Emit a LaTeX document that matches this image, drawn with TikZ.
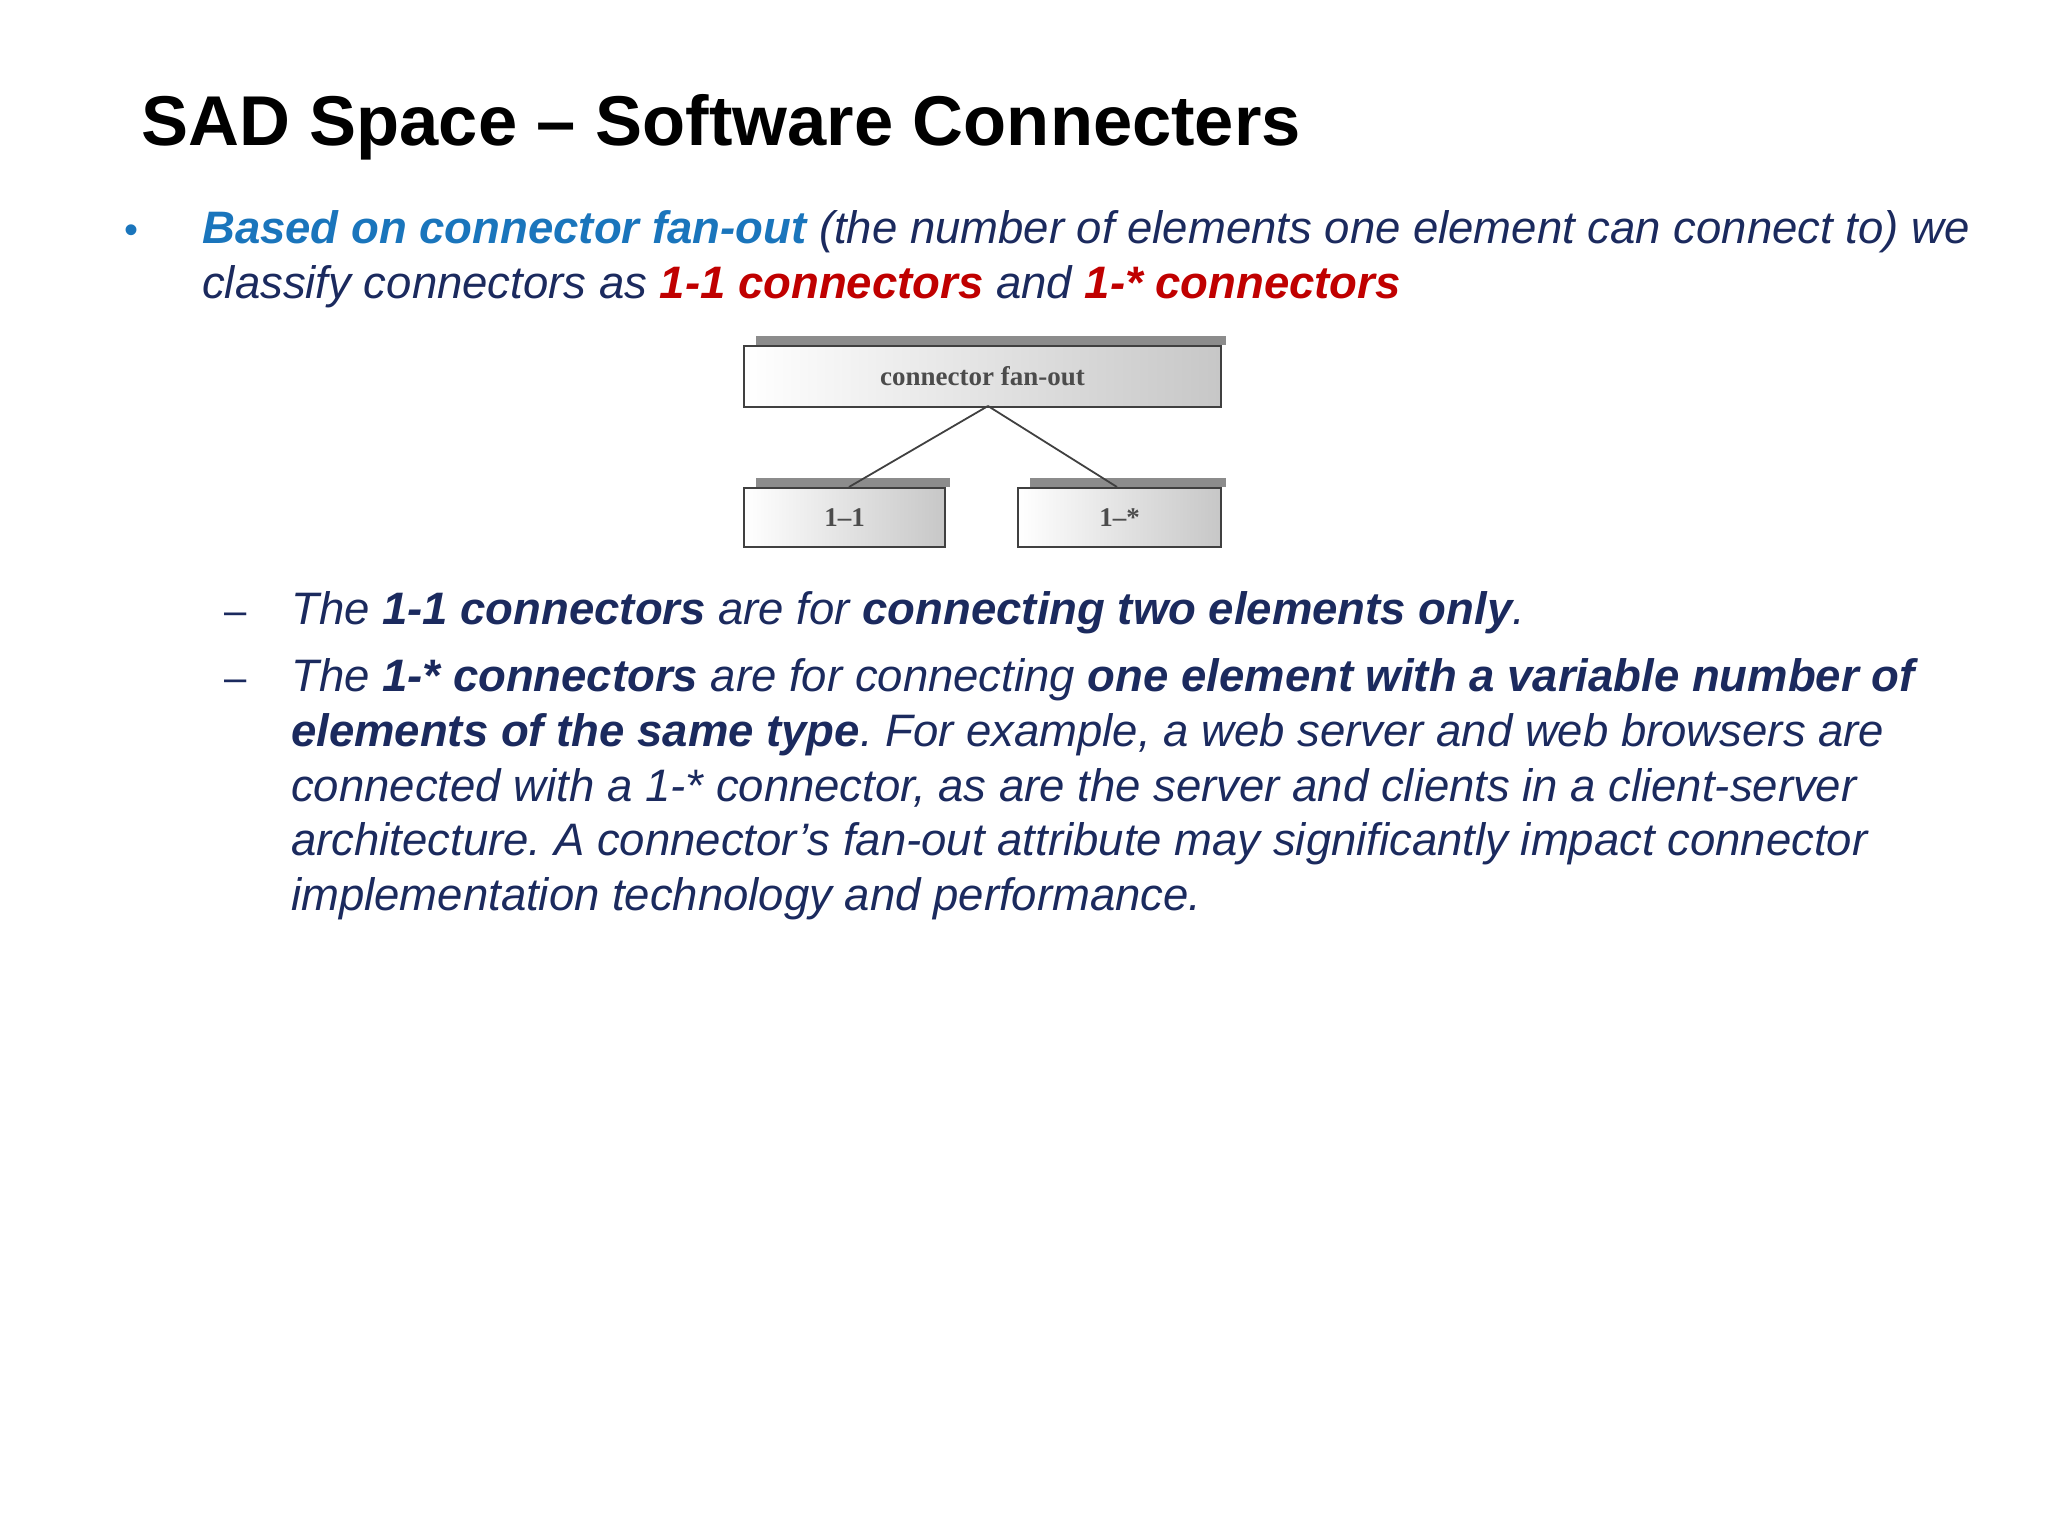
\documentclass[tikz,border=0pt]{standalone}
\usepackage{fontspec}
\setmainfont{Liberation Sans}
\newfontfamily\lblfont{Liberation Serif}
\definecolor{navy}{HTML}{1B2A5E}
\definecolor{lblue}{HTML}{1A75BC}
\definecolor{dred}{HTML}{C00000}
\frenchspacing
\begin{document}
\begin{tikzpicture}[x=1pt,y=-1pt,
  body/.style={anchor=base west,inner sep=0pt,font=\fontsize{45.5}{55}\selectfont\itshape,text=navy},
  fbox/.style={draw=black!75,line width=2pt,left color=white,right color=black!22,inner sep=0pt},
  shad/.style={fill=black!45},
  lbl/.style={font=\fontsize{27}{30}\selectfont\bfseries\lblfont,text=black!70}]
\useasboundingbox (0,0) rectangle (2048,1536);
\node[anchor=base west,inner sep=0pt,font=\fontsize{70.5}{80}\selectfont\bfseries] (title) at (141,146) {SAD Space – Software Connecters};
\node[body,font=\fontsize{40}{50}\selectfont,text=lblue] (b1) at (124,243) {•};
\node[body] (l1) at (202,243) {\textcolor{lblue}{\bfseries Based on connector fan-out} (the number of elements one element can connect to) we};
\node[body] (l2) at (202,298) {classify connectors as \textcolor{dred}{\bfseries 1-1 connectors} and \textcolor{dred}{\bfseries 1-* connectors}};
% diagram
\fill[shad] (756,336) rectangle (1226,345);
\node[fbox,minimum width=477,minimum height=61,anchor=north west] (top) at (743,345) {};
\node[lbl] at (top.center) {connector fan-out};
\fill[shad] (756,478) rectangle (950,487);
\node[fbox,minimum width=201,minimum height=59,anchor=north west] (a) at (743,487) {};
\node[lbl] at (a.center) {1–1};
\fill[shad] (1030,478) rectangle (1226,487);
\node[fbox,minimum width=203,minimum height=59,anchor=north west] (b) at (1017,487) {};
\node[lbl] at (b.center) {1–*};
\coordinate (tp) at (988,406);
\draw[black!75,line width=1.8pt] (tp) -- (a.north -| 849,0);
\draw[black!75,line width=1.8pt] (tp) -- (b.north -| 1117,0);
% sub bullets
\node[body,font=\fontsize{40}{50}\selectfont] (d1) at (224,624) {–};
\node[body] (s1) at (291,624) {The \textbf{1-1 connectors} are for \textbf{connecting two elements only}.};
\node[body,font=\fontsize{40}{50}\selectfont] (d2) at (224,691) {–};
\node[body] (s2) at (291,691) {The \textbf{1-* connectors} are for connecting \textbf{one element with a variable number of}};
\node[body] (s3) at (291,746) {\textbf{elements of the same type}. For example, a web server and web browsers are};
\node[body] (s4) at (291,801) {connected with a 1-* connector, as are the server and clients in a client-server};
\node[body] (s5) at (291,855) {architecture. A connector\symbol{39}s fan-out attribute may significantly impact connector};
\node[body] (s6) at (291,910) {implementation technology and performance.};
\end{tikzpicture}
\end{document}
